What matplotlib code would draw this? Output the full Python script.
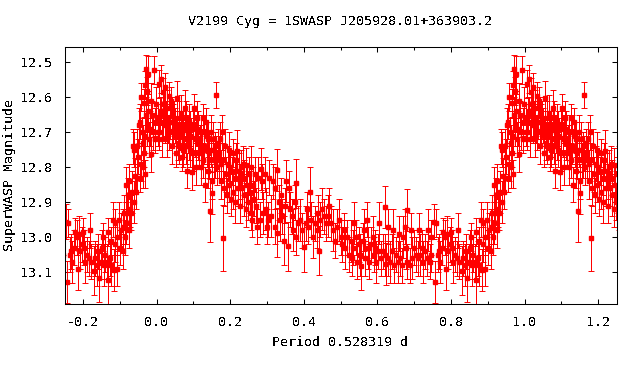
import matplotlib
matplotlib.use('Agg')
import matplotlib.pyplot as plt
import numpy as np

phase = [
    .003, .006, .010, .013, .018, .022, .024,
    .028, .033, .037, .039, .043, .048, .052,
    .055, .059, .064, .066, .070, .075, .077,
    .082, .084, .089, .094, .096, .100, .103,
    .108, .110, .115, .120, .125, .127, .132,
    .134, .139, .144, .145, .147, .150, .152,
    .156, .161, .165, .167, .172, .174, .178,
    .180, .184, .187, .191, .194, .198, .203,
    .207, .209, .214, .219, .221, .226, .228,
    .232, .235, .239, .242, .244, .249, .253,
    .256, .258, .260, .265, .270, .274, .277,
    .281, .283, .288, .290, .295, .297, .300,
    .304, .307, .311, .316, .321, .323, .327,
    .328, .332, .335, .339, .342, .346, .348,
    .351, .356, .360, .363, .367, .370, .375,
    .378, .380, .385, .390, .395, .400, .405,
    .408, .413, .418, .420, .425, .430, .435,
    .438, .442, .445, .450, .455, .460, .465,
    .470, .475, .480, .485, .490, .495, .500,
    .505, .510, .513, .518, .523, .528, .530,
    .535, .538, .543, .545, .550, .553, .557,
    .560, .565, .567, .572, .575, .577, .582,
    .587, .590, .595, .597, .602, .605, .610,
    .615, .620, .622, .623, .628, .630, .635,
    .640, .642, .645, .650, .655, .660, .662,
    .667, .670, .675, .677, .680, .682, .688,
    .692, .695, .700, .705, .710, .712, .717,
    .722, .725, .730, .735, .737, .742, .745,
    .747, .753, .758, .759, .764, .769, .771,
    .776, .778, .783, .786, .790, .793, .797,
    .800, .804, .807, .811, .816, .818, .823,
    .829, .833, .838, .840, .844, .848, .851,
    .855, .857, .861, .865, .867, .869, .873,
    .875, .877, .881, .884, .886, .888, .892,
    .894, .898, .900, .904, .908, .910, .912,
    .914, .916, .918, .920, .922, .924, .926,
    .928, .932, .934, .936, .938, .940, .942,
    .944, .946, .948, .950, .952, .954, .955,
    .957, .959, .960, .962, .964, .966, .967,
    .968, .969, .970, .971, .972, .974, .975,
    .977, .978, .980, .983, .985, .986, .988,
    .990, .993, .995, .997, .998,
    .004, .007, .012, .016, .019, .021, .026,
    .029, .031, .035, .041, .045, .046, .050,
    .054, .057, .061, .062, .068, .072, .073,
    .079, .080, .086, .087, .091, .092, .098,
    .104, .106, .112, .113, .118, .122, .123,
    .129, .130, .136, .137, .141, .143, .149,
    .154, .158, .159, .163, .169, .170, .176,
    .182, .189, .196, .200, .205, .212, .216,
    .223, .230, .237, .246, .251, .263, .267,
]

mag = [
    12.70, 12.563, 12.65, 12.549, 12.587, 12.68, 12.572,
    12.72, 12.596, 12.67, 12.61, 12.65, 12.66, 12.76,
    12.603, 12.73, 12.71, 12.645, 12.77, 12.72, 12.63,
    12.69, 12.81, 12.73, 12.71, 12.815, 12.76, 12.63,
    12.80, 12.66, 12.76, 12.80, 12.66, 12.78, 12.85,
    12.67, 12.81, 12.78, 12.925, 12.70, 12.84, 12.873,
    12.78, 12.594, 12.80, 12.73, 12.72, 12.84, 12.70,
    13.003, 12.86, 12.74, 12.88, 12.79, 12.85, 12.89,
    12.76, 12.87, 12.90, 12.754, 12.86, 12.84, 12.91,
    12.86, 12.79, 12.83, 12.92, 12.795, 12.90, 12.87,
    12.93, 12.80, 12.95, 12.89, 12.91, 12.97, 12.83,
    12.95, 12.806, 12.84, 12.93, 12.82, 12.92, 12.97,
    12.95, 12.83, 12.94, 12.84, 12.97, 12.86, 12.809,
    12.988, 12.90, 12.95, 12.88, 12.94, 13.01, 12.91,
    12.84, 13.026, 12.86, 12.92, 12.94, 12.98, 12.90,
    12.846, 13.00, 12.96, 12.95, 12.98, 13.029, 12.96,
    12.92, 12.97, 12.87, 12.95, 13.00, 12.96, 12.98,
    12.93, 13.039, 12.95, 12.92, 12.94, 12.96, 12.94,
    12.91, 12.96, 12.98, 13.01, 12.97, 12.95, 13.00,
    13.02, 12.98, 13.03, 13.00, 13.05, 13.01, 13.06,
    13.03, 12.96, 13.00, 13.07, 13.02, 13.05, 13.082,
    13.01, 12.98, 13.06, 12.95, 13.03, 13.07, 13.02,
    13.00, 13.05, 13.03, 13.07, 13.04, 12.96, 13.06,
    13.04, 13.05, 12.913, 13.076, 12.97, 13.06, 13.07,
    13.04, 12.98, 13.08, 13.05, 13.07, 12.99, 13.06,
    13.08, 13.00, 12.97, 13.03, 13.07, 12.923, 13.08,
    12.98, 13.06, 13.03, 13.05, 13.06, 12.98, 13.05,
    13.03, 13.07, 13.04, 13.06, 12.98, 13.07, 13.00,
    13.05, 12.957, 13.129, 12.96, 13.05, 13.04, 13.07,
    13.03, 12.985, 13.00, 13.09, 12.99, 13.04, 13.02,
    12.985, 13.03, 13.07, 13.05, 13.06, 12.98, 13.07,
    13.096, 13.06, 13.08, 13.04, 13.117, 13.07, 13.03,
    13.00, 13.08, 13.05, 13.07, 13.123, 12.985, 13.06,
    13.01, 13.08, 12.95, 13.093, 13.02, 12.96, 13.09,
    13.00, 12.95, 13.03, 12.98, 13.04, 12.97, 12.93,
    13.00, 12.85, 12.96, 12.93, 12.88, 12.98, 12.84,
    12.92, 12.93, 12.87, 12.74, 12.90, 12.75, 12.825,
    12.87, 12.74, 12.83, 12.77, 12.68, 12.83, 12.67,
    12.60, 12.79, 12.70, 12.73, 12.80, 12.617, 12.76,
    12.71, 12.82, 12.566, 12.52, 12.65, 12.584, 12.69,
    12.64, 12.534, 12.72, 12.69, 12.61, 12.763, 12.65,
    12.70, 12.522, 12.67, 12.72, 12.62,
    12.66, 12.70, 12.64, 12.72, 12.67, 12.62, 12.66,
    12.63, 12.69, 12.70, 12.74, 12.70, 12.67, 12.68,
    12.71, 12.68, 12.66, 12.74, 12.70, 12.68, 12.75,
    12.66, 12.74, 12.70, 12.67, 12.75, 12.69, 12.68,
    12.72, 12.69, 12.73, 12.69, 12.72, 12.70, 12.75,
    12.70, 12.74, 12.75, 12.71, 12.72, 12.76, 12.75,
    12.72, 12.74, 12.78, 12.76, 12.78, 12.76, 12.79,
    12.78, 12.82, 12.75, 12.80, 12.81, 12.83, 12.78,
    12.81, 12.80, 12.88, 12.85, 12.82, 12.85, 12.82,
]

err = [
    .04, .04, .05, .04, .04, .05, .04,
    .05, .04, .05, .04, .05, .05, .04,
    .05, .05, .04, .05, .04, .05, .05,
    .04, .05, .05, .05, .05, .05, .04,
    .05, .05, .04, .05, .04, .05, .05,
    .04, .05, .05, .09, .05, .05, .06,
    .05, .038, .05, .04, .05, .05, .05,
    .095, .05, .05, .05, .05, .05, .05,
    .04, .05, .06, .06, .05, .05, .05,
    .05, .05, .05, .05, .05, .05, .06,
    .05, .06, .05, .05, .05, .05, .06,
    .05, .06, .05, .06, .05, .06, .05,
    .05, .05, .06, .05, .05, .06, .06,
    .07, .05, .06, .05, .05, .07, .05,
    .06, .07, .05, .05, .05, .06, .05,
    .07, .05, .05, .06, .05, .07, .05,
    .05, .05, .07, .05, .06, .05, .05,
    .05, .07, .05, .06, .05, .05, .06,
    .05, .05, .06, .05, .05, .06, .05,
    .05, .05, .06, .05, .05, .06, .05,
    .05, .06, .05, .05, .05, .06, .07,
    .05, .06, .05, .05, .06, .05, .05,
    .06, .05, .05, .06, .05, .06, .05,
    .05, .06, .06, .06, .05, .05, .06,
    .05, .06, .05, .05, .06, .05, .05,
    .05, .06, .05, .06, .05, .06, .05,
    .05, .06, .05, .05, .05, .05, .06,
    .05, .06, .05, .05, .06, .05, .05,
    .05, .05, .06, .04, .05, .05, .06,
    .05, .04, .05, .06, .05, .05, .05,
    .04, .05, .06, .05, .05, .05, .05,
    .07, .05, .06, .05, .07, .05, .05,
    .04, .06, .05, .05, .07, .04, .05,
    .04, .06, .05, .06, .05, .04, .05,
    .05, .05, .05, .05, .05, .05, .05,
    .05, .05, .06, .05, .05, .05, .05,
    .05, .05, .06, .05, .06, .05, .05,
    .05, .05, .04, .05, .05, .04, .05,
    .04, .05, .04, .05, .06, .04, .04,
    .05, .04, .04, .04, .05, .04, .05,
    .05, .05, .05, .05, .05, .05, .04,
    .05, .04, .04, .04, .05,
    .04, .05, .04, .05, .05, .04, .05,
    .05, .04, .05, .05, .04, .05, .05,
    .05, .04, .05, .05, .05, .04, .05,
    .05, .05, .04, .05, .05, .05, .04,
    .05, .04, .05, .05, .04, .05, .05,
    .05, .05, .05, .04, .05, .05, .05,
    .05, .04, .05, .05, .05, .05, .04,
    .05, .05, .05, .05, .04, .05, .05,
    .05, .05, .06, .05, .05, .05, .05,
]

plt.rcParams['font.family'] = 'DejaVu Sans Mono'
plt.rcParams['font.size'] = 9.6
plt.rcParams['text.antialiased'] = False

phase = np.array(phase)
mag = np.array(mag)
err = np.array(err)

# folded curve is shown over one and a half cycles
x = np.concatenate([phase - 1, phase, phase + 1])
y = np.tile(mag, 3)
e = np.tile(err, 3)

fig = plt.figure(figsize=(6.4, 3.84), dpi=100)
ax = fig.add_axes([64.5 / 640, 1 - 303.5 / 384, 552 / 640, 256.5 / 384])

ax.errorbar(x, y, yerr=e, fmt='s', color='#ff0000', ecolor='#ff0000', ms=3.0,
            elinewidth=0.65, capsize=2.2, capthick=0.7, antialiased=False)

ax.set_xlim(-0.25, 1.25)
ax.set_ylim(13.19, 12.457)
ax.set_xticks([-0.2, 0.0, 0.2, 0.4, 0.6, 0.8, 1.0, 1.2])
ax.set_xticks([-0.1, 0.1, 0.3, 0.5, 0.7, 0.9, 1.1], minor=True)
ax.set_yticks([12.5, 12.6, 12.7, 12.8, 12.9, 13.0, 13.1])
ax.set_yticklabels(['12.5', '12.6', '12.7', '12.8', '12.9', '13.0', '13.1'])
ax.set_xticklabels(['-0.2', '0.0', '0.2', '0.4', '0.6', '0.8', '1.0', '1.2'])
ax.tick_params(which='major', direction='in', top=True, right=True, length=3.6, width=0.75, pad=9)
ax.tick_params(which='minor', direction='in', top=True, right=True, length=2, width=0.75)
for s in ax.spines.values():
    s.set_linewidth(0.75)

fig.text(340 / 640, 1 - 22 / 384, 'V2199 Cyg = 1SWASP J205928.01+363903.2', ha='center', va='center')
fig.text(340 / 640, 1 - 343 / 384, 'Period 0.528319 d', ha='center', va='center')
fig.text(10 / 640, 1 - 175 / 384, 'SuperWASP Magnitude', ha='center', va='center', rotation=90)

fig.savefig('out.png', dpi=100)
